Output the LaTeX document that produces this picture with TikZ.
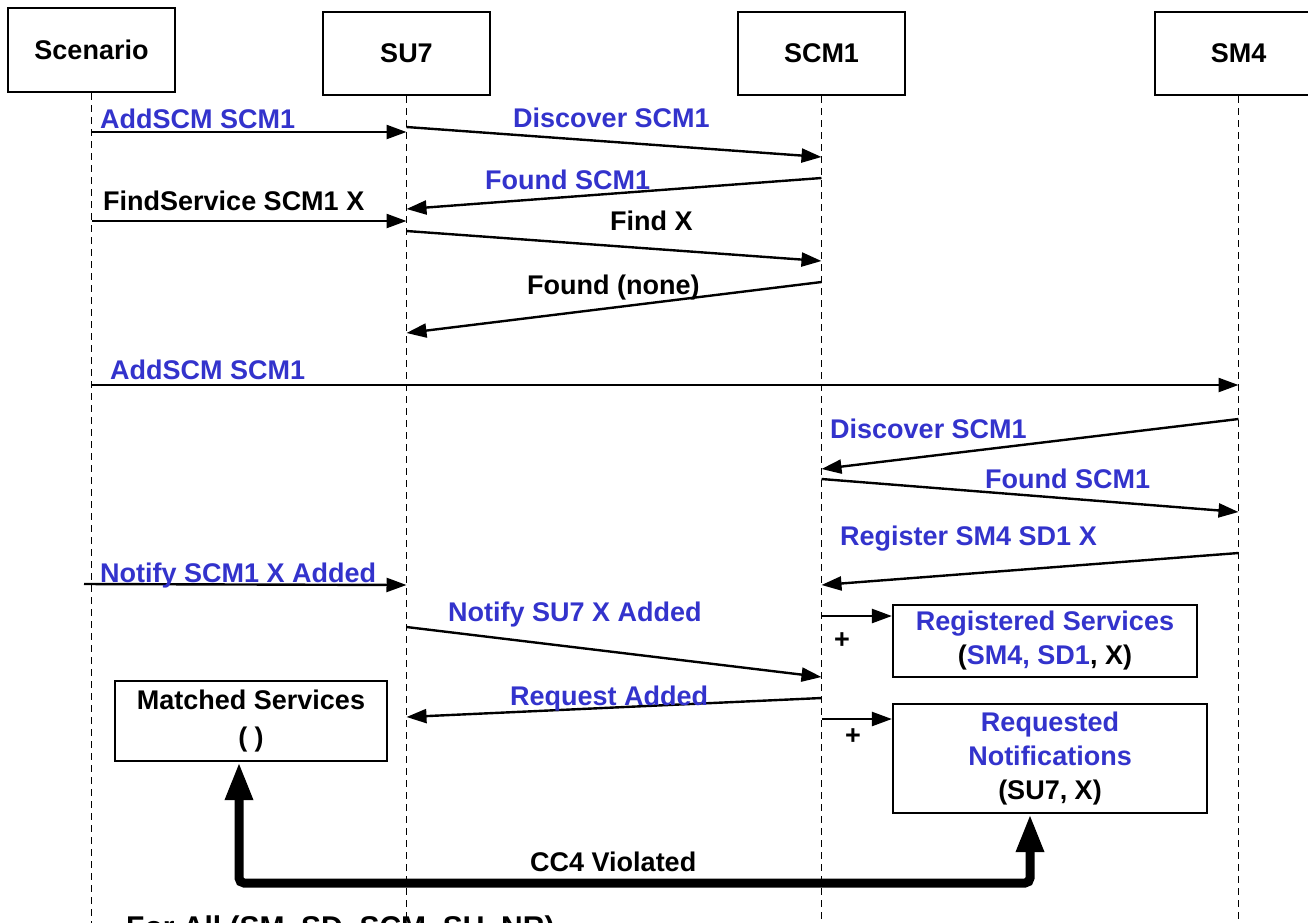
\documentclass[tikz,border=0pt]{standalone}
\usepackage{fontspec}
\setmainfont{Liberation Sans}
\usetikzlibrary{arrows.meta,calc}
\definecolor{msgblue}{RGB}{51,51,204}
\tikzset{
  lbl/.style={font=\fontsize{27}{32}\selectfont\bfseries, inner sep=0pt, anchor=base west},
  blbl/.style={lbl, text=msgblue},
  head/.style={draw, line width=2.2pt, fill=white, minimum width=167pt, minimum height=84pt, font=\fontsize{27}{32}\selectfont\bfseries, inner sep=0pt},
  life/.style={line width=1.9pt, dash pattern=on 7pt off 5pt},
  msg/.style={line width=2.4pt, -{Triangle[length=20pt,width=14pt]}},
  statebox/.style={draw, line width=2.2pt, fill=white, align=center, font=\fontsize{27}{34}\selectfont\bfseries, inner sep=0pt},
  bigarrow/.style={line width=9pt, rounded corners=5pt, {Triangle[length=38pt,width=26pt]}-{Triangle[length=38pt,width=26pt]}},
  plus/.style={font=\fontsize{27}{32}\selectfont\bfseries, inner sep=0pt}
}
\begin{document}
\begin{tikzpicture}[x=1pt,y=-1pt]
\useasboundingbox (0,0) rectangle (1308,922);
\clip (0,0) rectangle (1308,922);

% lifeline heads
\node[head, minimum height=84pt] (scen) at (91.5,50) {Scenario};
\node[head, minimum height=83pt] (su7) at (406.5,53.5) {SU7};
\node[head, minimum height=83pt] (scm1) at (821.5,53.5) {SCM1};
\node[head, minimum height=83pt] (sm4) at (1238.5,53.5) {SM4};

\coordinate (bot) at (0,935);
\draw[life] (scen.south) -- (scen.south |- bot);
\draw[life] (su7.south) -- (su7.south |- bot);
\draw[life] (scm1.south) -- (scm1.south |- bot);
\draw[life] (sm4.south) -- (sm4.south |- bot);

% message end points
\coordinate (a1s) at (scen.south |- 0,132);  \coordinate (a1e) at (su7.south |- 0,132);
\coordinate (a2s) at (su7.south |- 0,127);   \coordinate (a2e) at (scm1.south |- 0,157);
\coordinate (a3s) at (scm1.south |- 0,178);  \coordinate (a3e) at (su7.south |- 0,209);
\coordinate (a4s) at (scen.south |- 0,221);  \coordinate (a4e) at (su7.south |- 0,221);
\coordinate (a5s) at (su7.south |- 0,231);   \coordinate (a5e) at (scm1.south |- 0,261);
\coordinate (a6s) at (scm1.south |- 0,282);  \coordinate (a6e) at (su7.south |- 0,333);
\coordinate (a7s) at (scen.south |- 0,385);  \coordinate (a7e) at (sm4.south |- 0,385);
\coordinate (a8s) at (sm4.south |- 0,419);   \coordinate (a8e) at (scm1.south |- 0,469);
\coordinate (a9s) at (scm1.south |- 0,479);  \coordinate (a9e) at (sm4.south |- 0,512);
\coordinate (a10s) at (sm4.south |- 0,553);  \coordinate (a10e) at (scm1.south |- 0,585);
\coordinate (a11s) at (84,584);              \coordinate (a11e) at (su7.south |- 0,585);
\coordinate (a12s) at (su7.south |- 0,627);  \coordinate (a12e) at (scm1.south |- 0,677);
\coordinate (a13s) at (scm1.south |- 0,698); \coordinate (a13e) at (su7.south |- 0,717);

\draw[msg] (a1s) -- (a1e);
\draw[msg] (a2s) -- (a2e);
\draw[msg] (a3s) -- (a3e);
\draw[msg] (a4s) -- (a4e);
\draw[msg] (a5s) -- (a5e);
\draw[msg] (a6s) -- (a6e);
\draw[msg] (a7s) -- (a7e);
\draw[msg] (a8s) -- (a8e);
\draw[msg] (a9s) -- (a9e);
\draw[msg] (a10s) -- (a10e);
\draw[msg] (a11s) -- (a11e);
\draw[msg] (a12s) -- (a12e);
\draw[msg] (a13s) -- (a13e);

% message labels
\node[blbl] (l1) at (100,128) {AddSCM SCM1};
\node[blbl] (l2) at (513,127) {Discover SCM1};
\node[blbl] (l3) at (485,189) {Found SCM1};
\node[lbl]  (l4) at (103,210) {FindService SCM1 X};
\node[lbl]  (l5) at (610,230) {Find X};
\node[lbl]  (l6) at (527,294) {Found (none)};
\node[blbl] (l7) at (110,379) {AddSCM SCM1};
\node[blbl] (l8) at (830,438) {Discover SCM1};
\node[blbl] (l9) at (985,488) {Found SCM1};
\node[blbl] (l10) at (840,545) {Register SM4 SD1 X};
\node[blbl] (l11) at (100,582) {Notify SCM1 X Added};
\node[blbl] (l12) at (448,621) {Notify SU7 X Added};
\node[blbl] (l13) at (510,705) {Request Added};

% state boxes
\node[statebox, minimum width=304pt, minimum height=72pt] (reg) at (1045,641)
  {\textcolor{msgblue}{Registered Services}\\(\textcolor{msgblue}{SM4, SD1}, X)};
\node[statebox, minimum width=314pt, minimum height=109pt] (req) at (1050,758.5)
  {\textcolor{msgblue}{Requested}\\\textcolor{msgblue}{Notifications}\\(SU7, X)};
\node[statebox, minimum width=272pt, minimum height=80pt] (matched) at (251,721)
  {Matched Services\\[3pt]( )};

\coordinate (p1) at (scm1.south |- 0,616);
\coordinate (p2) at (scm1.south |- 0,719);
\draw[msg] (p1) -- (reg.west |- p1);
\draw[msg] (p2) -- (req.west |- p2);
\node[plus] (plus1) at (842,641) {+};
\node[plus] (plus2) at (853,737) {+};

% CC4 violated
\coordinate (cv) at (0,883);
\coordinate (rqa) at ([xshift=-20pt]req.south);
\coordinate (msa) at ([xshift=-12pt]matched.south);
\draw[bigarrow] (rqa) -- (rqa |- cv) -- (msa |- cv) -- (msa);
\node[lbl] (cc4) at (530,871) {CC4 Violated};

\node[lbl, font=\fontsize{30}{36}\selectfont\bfseries] (forall) at (126,937) {For All (SM, SD, SCM, SU, NR)};
\end{tikzpicture}
\end{document}
